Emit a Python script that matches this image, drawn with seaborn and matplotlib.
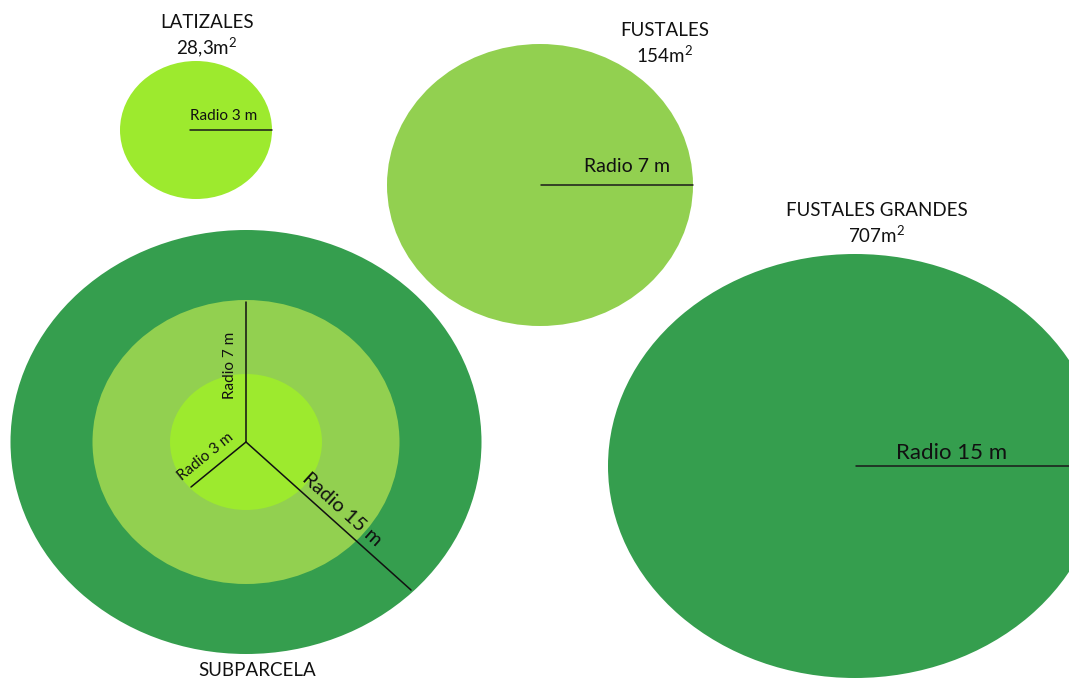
import numpy as np
import pandas as pd
import matplotlib
matplotlib.use("Agg")
import matplotlib.pyplot as plt
from matplotlib.patches import Ellipse
import seaborn as sns

# ---- data ----
names = ["LATIZALES", "FUSTALES", "FUSTALES GRANDES"]
areas = ["28,3", "154", "707"]
radios = [3, 7, 15]
combined_name = "SUBPARCELA"

# ---- style ----
colors = ["#9DEA2E", "#92D050", "#359E4E"]
sns.set_theme(style="white")
plt.rcParams["font.family"] = ["Lato", "DejaVu Sans"]
plt.rcParams["mathtext.fontset"] = "custom"
plt.rcParams["mathtext.rm"] = "Lato"
plt.rcParams["mathtext.it"] = "Lato"

# layout (pixel units)
rx_single = [76, 153, 247]
ry_single = [69, 141, 212]
rx_sub = [76, 153.5, 235.5]
ry_sub = [68, 142, 212]
single_centers = [(196, 130), (540, 185), (855, 466)]
title_pos = [(207, 22), (665, 30), (877, 210)]
sub_center = (246, 442)

fig = plt.figure(figsize=(10.69, 6.8), dpi=100)
ax = fig.add_axes([0, 0, 1, 1])
ax.set_xlim(0, 1069)
ax.set_ylim(680, 0)
ax.axis("off")

# single plots
for i in range(3):
    cx, cy = single_centers[i]
    ax.add_patch(Ellipse((cx, cy), 2 * rx_single[i], 2 * ry_single[i], color=colors[i], lw=0, zorder=1))
    ax.plot([cx - 6 if i == 0 else cx + 1, cx + rx_single[i]], [cy, cy], color="#1a1a1a", lw=1.1, zorder=3)
    tx, ty = title_pos[i]
    ax.text(tx, ty, names[i], ha="center", va="center", fontsize=13.5, color="#111111", zorder=4)
    ax.text(tx, ty + 25, areas[i] + r"m$^\mathregular{2}$", ha="center", va="center",
            fontsize=13.5, color="#111111", zorder=4)

ax.text(224, 116, f"Radio {radios[0]} m", ha="center", va="center", fontsize=11, color="#111111", zorder=4)
ax.text(627, 167, f"Radio {radios[1]} m", ha="center", va="center", fontsize=14, color="#111111", zorder=4)
ax.text(952, 453, f"Radio {radios[2]} m", ha="center", va="center", fontsize=16, color="#111111", zorder=4)

# subparcela (nested)
scx, scy = sub_center
for i in [2, 1, 0]:
    ax.add_patch(Ellipse((scx, scy), 2 * rx_sub[i], 2 * ry_sub[i], color=colors[i], lw=0, zorder=1 + (2 - i)))

ends = [(191, 487), (246, 302), (411, 590)]
for ex, ey in ends:
    ax.plot([scx, ex], [scy, ey], color="#111111", lw=1.1, zorder=5)

ax.text(206, 457, f"Radio {radios[0]} m", ha="center", va="center", rotation=39,
        rotation_mode="anchor", fontsize=11, color="#111111", zorder=6)
ax.text(230, 365, f"Radio {radios[1]} m", ha="center", va="center", rotation=90,
        rotation_mode="anchor", fontsize=11, color="#111111", zorder=6)
ax.text(342, 509, f"Radio {radios[2]} m", ha="center", va="center", rotation=-42,
        rotation_mode="anchor", fontsize=14.5, color="#111111", zorder=6)

ax.text(257, 671, combined_name, ha="center", va="center", fontsize=13.5, color="#111111")

fig.savefig("out.png", dpi=100)
